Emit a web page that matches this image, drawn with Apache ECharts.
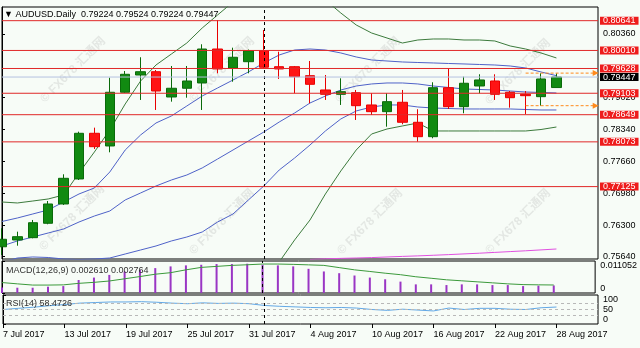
<!DOCTYPE html>
<html><head><meta charset="utf-8">
<script src="https://cdn.jsdelivr.net/npm/echarts@6/dist/echarts.min.js"></script>
<style>html,body{margin:0;padding:0;background:#f7fcf7}#c{width:640px;height:348px}</style>
</head><body><div id="c"></div>
<script>
// ---------- DATA ----------
const dates = ['7 Jul 2017','10 Jul 2017','11 Jul 2017','12 Jul 2017','13 Jul 2017','14 Jul 2017','17 Jul 2017','18 Jul 2017','19 Jul 2017','20 Jul 2017','21 Jul 2017','24 Jul 2017','25 Jul 2017','26 Jul 2017','27 Jul 2017','28 Jul 2017','31 Jul 2017','1 Aug 2017','2 Aug 2017','3 Aug 2017','4 Aug 2017','7 Aug 2017','8 Aug 2017','9 Aug 2017','10 Aug 2017','11 Aug 2017','14 Aug 2017','15 Aug 2017','16 Aug 2017','17 Aug 2017','18 Aug 2017','21 Aug 2017','22 Aug 2017','23 Aug 2017','24 Aug 2017','25 Aug 2017','28 Aug 2017'];
const dateTickIdx = [0,4,8,12,16,20,24,28,32,36];

const open  = [0.75850,0.75994,0.76043,0.76348,0.76757,0.77287,0.78255,0.77986,0.79124,0.79490,0.79560,0.79024,0.79209,0.79321,0.80041,0.79632,0.79772,0.80005,0.79666,0.79666,0.79476,0.79173,0.79081,0.79115,0.78855,0.78713,0.78912,0.78488,0.78183,0.79221,0.78819,0.79257,0.79363,0.79124,0.79081,0.79031,0.79224];
const high  = [0.76242,0.76170,0.76418,0.76820,0.77386,0.78289,0.78374,0.79433,0.79575,0.79866,0.79596,0.79681,0.79681,0.80141,0.80656,0.80069,0.80030,0.80444,0.79984,0.79681,0.79787,0.79490,0.79420,0.79173,0.79103,0.79103,0.79173,0.78764,0.79336,0.79632,0.79454,0.79505,0.79505,0.79151,0.79151,0.79526,0.79524];
const low   = [0.75676,0.75873,0.76030,0.76327,0.76736,0.77265,0.77922,0.77852,0.79109,0.78961,0.78749,0.78925,0.79009,0.78749,0.79526,0.79348,0.79526,0.79640,0.79406,0.79103,0.78891,0.78961,0.78855,0.78537,0.78643,0.78395,0.78446,0.78077,0.78149,0.78770,0.78679,0.79103,0.78961,0.78798,0.78658,0.78840,0.79224];
const close = [0.76009,0.76064,0.76360,0.76757,0.77301,0.78255,0.77971,0.79124,0.79505,0.79560,0.79151,0.79209,0.79363,0.80041,0.79618,0.79866,0.80005,0.79654,0.79618,0.79454,0.79293,0.79081,0.79137,0.78840,0.78713,0.78925,0.78488,0.78183,0.79221,0.78819,0.79315,0.79385,0.79081,0.79009,0.79052,0.79406,0.79447];

// Bollinger bands (20): 2 sigma (green), 1 sigma (blue), middle (blue)
const bbUpper2 = [0.76799,0.76778,0.76820,0.76863,0.76947,0.77414,0.77859,0.78325,0.78876,0.79363,0.79702,0.79935,0.80168,0.80486,0.80762,0.81037,0.81249,0.81376,0.81419,0.81376,0.81270,0.81080,0.80804,0.80550,0.80380,0.80274,0.80168,0.80232,0.80253,0.80253,0.80232,0.80232,0.80211,0.80105,0.80041,0.79957,0.79851];
const bbUpper1 = [0.76386,0.76460,0.76545,0.76630,0.76799,0.76969,0.77096,0.77435,0.77901,0.78219,0.78473,0.78622,0.78833,0.79045,0.79215,0.79384,0.79554,0.79745,0.79914,0.80020,0.80041,0.80020,0.79957,0.79872,0.79808,0.79787,0.79766,0.79755,0.79745,0.79734,0.79724,0.79713,0.79702,0.79681,0.79639,0.79554,0.79476];
const bbMiddle = [0.75867,0.75973,0.76057,0.76142,0.76227,0.76375,0.76502,0.76608,0.76842,0.76990,0.77138,0.77265,0.77371,0.77520,0.77710,0.77901,0.78092,0.78282,0.78494,0.78685,0.78897,0.79045,0.79172,0.79257,0.79300,0.79321,0.79321,0.79300,0.79257,0.79226,0.79194,0.79183,0.79172,0.79151,0.79130,0.79120,0.79109];
const bbLower1 = [0.75528,0.75612,0.75634,0.75623,0.75591,0.75581,0.75591,0.75612,0.75697,0.75782,0.75867,0.75973,0.76057,0.76163,0.76375,0.76545,0.76842,0.77138,0.77477,0.77731,0.78007,0.78304,0.78558,0.78728,0.78812,0.78855,0.78855,0.78812,0.78791,0.78780,0.78770,0.78770,0.78770,0.78770,0.78759,0.78749,0.78749];
const bbLower2 = [null,null,null,null,null,null,null,null,null,null,null,null,null,null,null,null,null,0.75040,0.75528,0.75994,0.76418,0.76969,0.77456,0.77901,0.78240,0.78346,0.78410,0.78473,0.78304,0.78304,0.78304,0.78304,0.78304,0.78304,0.78304,0.78335,0.78388];
const maLong   = [null,null,null,null,null,null,null,null,null,null,null,null,null,null,null,null,null,null,null,null,0.75581,0.75595,0.75604,0.75612,0.75621,0.75634,0.75646,0.75657,0.75670,0.75684,0.75699,0.75714,0.75731,0.75748,0.75765,0.75784,0.75803];

const redLevels = [0.80641,0.80010,0.79628,0.79103,0.78649,0.78073,0.77125];
const lastPrice = 0.79447;
const orangeLevels = [0.79530,0.78840];
const markerIdx = 17;   // dashed vertical (1 Aug)
const orangeStartIdx = 34;
const priceTicks = [0.75640,0.76300,0.76980,0.77660,0.78340,0.79020,0.80360];

const macdHist = [0.00190,0.00182,0.00182,0.00218,0.00239,0.00449,0.00533,0.00625,0.00744,0.00800,0.00860,0.00919,0.00954,0.00975,0.01000,0.01000,0.01011,0.00975,0.00954,0.00919,0.00835,0.00744,0.00684,0.00604,0.00533,0.00474,0.00393,0.00298,0.00298,0.00274,0.00298,0.00298,0.00274,0.00274,0.00239,0.00253,0.00261];
const macdSignal = [0.00361,0.00316,0.00274,0.00274,0.00281,0.00333,0.00368,0.00414,0.00491,0.00568,0.00649,0.00702,0.00800,0.00884,0.00919,0.00954,0.00975,0.01000,0.01000,0.00989,0.00972,0.00954,0.00877,0.00800,0.00744,0.00684,0.00632,0.00561,0.00509,0.00456,0.00421,0.00386,0.00351,0.00316,0.00290,0.00282,0.002764];
const macdTicks = [0,0.011052];

const rsi = [50,54,58,63,67,72,74,76,76,77,75,72,70,73,71,72,70,64,61,59,57,56,57,55,50,47,51,48,45,55,50,54,54,51,50,56,58.4726];
const rsiLevels = [70,50,30];
const rsiTicks = [0,30,50,70,100];

// ---------- CHART ----------
const FONT = '"Liberation Sans", Arial, "Noto Sans CJK SC", sans-serif';
const X_MAX = 38.7;
const pairs = arr => arr.map((v, i) => [i, v]);
const candleData = open.map((o, i) => [i, o, close[i], low[i], high[i]]);
const last = open.length - 1;

const gridBase = {left: 2, right: 42, show: true, borderColor: '#000', borderWidth: 1, backgroundColor: 'transparent'};
const txt = {fontFamily: FONT, fontSize: 9, color: '#000'};

function lineSeries(data, color, z, extra) {
  return Object.assign({type: 'line', xAxisIndex: 0, yAxisIndex: 0, data: pairs(data), showSymbol: false, symbol: 'none',
    lineStyle: {color: color, width: 1}, z: z || 2, silent: true, connectNulls: false}, extra || {});
}
const vMarker = {xAxis: markerIdx, lineStyle: {color: '#000', width: 1, type: [3, 3]}, label: {show: false}};

function levelSeries(v, lineColor, boxColor, z) {
  return {type: 'line', xAxisIndex: 0, yAxisIndex: 0, silent: true, zlevel: 1, z: z, symbol: 'none', showSymbol: false,
    data: [[0, v], [X_MAX, v]], lineStyle: {color: lineColor, width: 1},
    endLabel: {show: true, formatter: v.toFixed(5), backgroundColor: boxColor, color: '#fff', distance: 2,
      padding: [0, 3, 0, 3], lineHeight: 8, fontFamily: FONT, fontSize: 9}};
}
function orangeSeries(v) {
  return {type: 'line', xAxisIndex: 0, yAxisIndex: 0, silent: true, zlevel: 1, z: 5, showSymbol: true, clip: false,
    data: [{value: [orangeStartIdx, v], symbol: 'none'}, {value: [X_MAX - 0.15, v], symbol: 'triangle', symbolSize: 6, symbolRotate: -90}],
    lineStyle: {color: '#ff8a1c', width: 1, type: [3, 2]}, itemStyle: {color: '#ff8a1c'}};
}

const watermarks = [];
[[73,70],[222,70],[368,70],[518,72],[72,218],[222,222],[370,222],[518,222]].forEach(p => {
  watermarks.push({type: 'text', x: p[0], y: p[1], rotation: Math.PI / 4, silent: true, z: 0,
    style: {text: '© FX678 汇通网', fill: 'rgba(150,150,150,0.2)', font: 'bold 12px ' + FONT, align: 'center', verticalAlign: 'middle'}});
});

const option = {
  animation: false,
  backgroundColor: '#f7fcf7',
  textStyle: {fontFamily: FONT},
  title: [
    {text: '▼ AUDUSD.Daily  ' + [open[last], high[last], low[last], close[last]].map(v => v.toFixed(5)).join(' '),
     left: 4, top: 10, padding: 0, textStyle: Object.assign({fontWeight: 'normal'}, txt)},
    {text: 'MACD(12,26,9) ' + macdHist[last].toFixed(6) + ' ' + macdSignal[last].toFixed(6),
     left: 6, top: 266, padding: 0, textStyle: Object.assign({fontWeight: 'normal'}, txt, {color: '#333'})},
    {text: 'RSI(14) ' + rsi[last].toFixed(4),
     left: 6, top: 299, padding: 0, textStyle: Object.assign({fontWeight: 'normal'}, txt, {color: '#333'})}
  ],
  graphic: watermarks,
  grid: [
    Object.assign({top: 7, height: 252}, gridBase),
    Object.assign({top: 261, height: 32}, gridBase),
    Object.assign({top: 295, height: 29}, gridBase)
  ],
  xAxis: [0, 1, 2].map(g => ({
    type: 'value', gridIndex: g, min: 0, max: X_MAX,
    axisLine: {show: false}, splitLine: {show: false},
    axisTick: {show: g === 2, customValues: dateTickIdx, length: 4, lineStyle: {color: '#000'}},
    axisLabel: Object.assign({show: g === 2, customValues: dateTickIdx, formatter: v => dates[v] || '', align: 'left', margin: 6,
      showMinLabel: true, showMaxLabel: true}, txt)
  })),
  yAxis: [
    {type: 'value', gridIndex: 0, position: 'right', min: 0.75591, max: 0.80931,
     axisLine: {show: true, lineStyle: {color: '#000'}}, splitLine: {show: false},
     axisTick: {show: true, customValues: priceTicks, length: 3, lineStyle: {color: '#000'}},
     axisLabel: Object.assign({customValues: priceTicks, formatter: v => v.toFixed(5), margin: 5}, txt)},
    {type: 'value', gridIndex: 1, position: 'right', min: 0, max: 0.011052,
     axisLine: {show: true, lineStyle: {color: '#000'}}, splitLine: {show: false},
     axisTick: {show: true, customValues: macdTicks, length: 3, lineStyle: {color: '#000'}},
     axisLabel: Object.assign({customValues: macdTicks, formatter: v => v === 0 ? '0' : v.toFixed(6), margin: 5,
       showMinLabel: true, showMaxLabel: true, verticalAlignMinLabel: 'bottom', verticalAlignMaxLabel: 'top'}, txt)},
    {type: 'value', gridIndex: 2, position: 'right', min: 0, max: 100,
     axisLine: {show: true, lineStyle: {color: '#000'}}, splitLine: {show: false},
     axisTick: {show: true, customValues: rsiTicks, length: 3, lineStyle: {color: '#000'}},
     axisLabel: Object.assign({customValues: rsiTicks, formatter: v => String(v), margin: 5,
       showMinLabel: true, showMaxLabel: true, verticalAlignMinLabel: 'bottom', verticalAlignMaxLabel: 'top'}, txt)}
  ],
  series: [
    lineSeries(maLong, '#e050e0'),
    lineSeries(bbLower2, '#3c7a3c'),
    lineSeries(bbUpper2, '#3c7a3c'),
    lineSeries(bbLower1, '#4f62c8'),
    lineSeries(bbUpper1, '#4f62c8'),
    lineSeries(bbMiddle, '#4f62c8', 2, {markLine: {silent: true, symbol: ['none', 'none'], data: [vMarker]}}),
    ...redLevels.map(v => levelSeries(v, '#e02828', '#ee1c1c', 3)),
    levelSeries(lastPrice, '#b4c2e0', '#000000', 6),
    ...orangeLevels.map(orangeSeries),
    {
      type: 'candlestick', xAxisIndex: 0, yAxisIndex: 0, data: candleData, barWidth: 10, z: 4, silent: true,
      itemStyle: {color: '#118a11', color0: '#ff1414', borderColor: '#0a6a0a', borderColor0: '#e80000', borderWidth: 1}
    },
    {
      type: 'bar', xAxisIndex: 1, yAxisIndex: 1, data: pairs(macdHist), barWidth: 2, silent: true,
      itemStyle: {color: '#9a36c4'},
      markLine: {silent: true, symbol: ['none', 'none'], data: [vMarker]}
    },
    {type: 'line', xAxisIndex: 1, yAxisIndex: 1, data: pairs(macdSignal), showSymbol: false, symbol: 'none', silent: true,
     lineStyle: {color: '#3c9a3c', width: 1}},
    {
      type: 'line', xAxisIndex: 2, yAxisIndex: 2, data: pairs(rsi), showSymbol: false, symbol: 'none', silent: true,
      lineStyle: {color: '#62a8e6', width: 1},
      markLine: {silent: true, symbol: ['none', 'none'],
        data: [vMarker].concat(rsiLevels.map(v => ({yAxis: v, lineStyle: {color: '#b8b8b8', width: 1, type: [3, 3]}, label: {show: false}})))}
    }
  ]
};
const chart = echarts.init(document.getElementById('c'), null, {renderer: 'canvas', width: 640, height: 348});
chart.setOption(option);
</script>
</body></html>
